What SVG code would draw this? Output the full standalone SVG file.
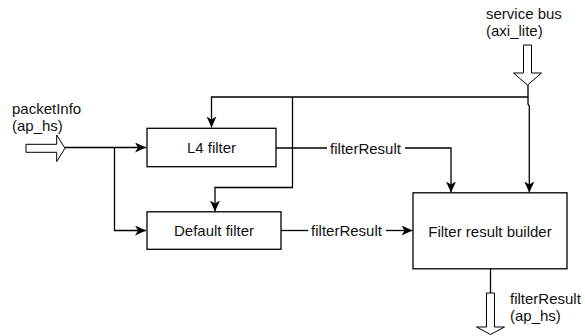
<svg xmlns="http://www.w3.org/2000/svg" width="585" height="336" viewBox="0 0 585 336">
  <style>
    .box { fill: #ffffff; stroke: #000000; stroke-width: 1.3; }
    .wire { fill: none; stroke: #000000; stroke-width: 1.3; }
    .bus { fill: #ffffff; stroke: #000000; stroke-width: 1; }
    text { font-family: "Liberation Sans", Arial, Helvetica, sans-serif; font-size: 15px; fill: #111111; }
    .mid { text-anchor: middle; }
  </style>
  <defs>
    <marker id="arrow" viewBox="0 0 11 10" refX="11" refY="5" markerWidth="11" markerHeight="10" markerUnits="userSpaceOnUse" orient="auto">
      <path d="M0,0 L11,5 L0,10 L3,5 Z" fill="#000000"/>
    </marker>
  </defs>

  <rect width="585" height="336" fill="#ffffff"/>

  <!-- connectors -->
  <g id="connectors">
    <!-- packetInfo fan-out -->
    <path class="wire" d="M65,147.5 H146" marker-end="url(#arrow)"/>
    <path class="wire" d="M114.5,147.5 V230.5 H146" marker-end="url(#arrow)"/>
    <!-- service bus distribution -->
    <path class="wire" d="M528,85 V97 H211.5 V127.5" marker-end="url(#arrow)"/>
    <path class="wire" d="M292.5,97 V187.5 H215 V211.5" marker-end="url(#arrow)"/>
    <path class="wire" d="M528,97 V104 L529.3,106 V192.5" marker-end="url(#arrow)"/>
    <!-- L4 filter result -->
    <path class="wire" d="M276,148 H327"/>
    <path class="wire" d="M405,148 H451 V192.5" marker-end="url(#arrow)"/>
    <text class="mid" x="365.5" y="153.5">filterResult</text>
    <!-- Default filter result -->
    <path class="wire" d="M281,230.5 H308"/>
    <path class="wire" d="M386,230.5 H412.5" marker-end="url(#arrow)"/>
    <text class="mid" x="346.5" y="236">filterResult</text>
    <!-- builder output -->
    <path class="wire" d="M490.5,268.5 V293"/>
  </g>

  <!-- input: packetInfo -->
  <g id="packet-info">
    <polygon class="bus" points="26,144.3 56.7,144.3 56.7,135 65,148.3 56.7,161.5 56.7,152.3 26,152.3"/>
    <text x="12" y="114">packetInfo</text>
    <text x="12" y="131">(ap_hs)</text>
  </g>

  <!-- input: service bus -->
  <g id="service-bus">
    <polygon class="bus" points="523.5,45 531.5,45 531.5,73 541.5,73 527.5,85 513.5,73 523.5,73"/>
    <text x="486" y="18.5">service bus</text>
    <text x="486" y="35.5">(axi_lite)</text>
  </g>

  <!-- output: filterResult -->
  <g id="filter-result-out">
    <polygon class="bus" points="486.5,293 494.5,293 494.5,327 504.5,327 490.5,334.5 476.5,327 486.5,327"/>
    <text x="510" y="303.5">filterResult</text>
    <text x="510" y="321">(ap_hs)</text>
  </g>

  <g id="l4-filter">
    <rect class="box" x="147" y="128.3" width="129" height="38.4"/>
    <text class="mid" x="211.5" y="153">L4 filter</text>
  </g>

  <g id="default-filter">
    <rect class="box" x="147" y="211.8" width="134" height="37.5"/>
    <text class="mid" x="214" y="236">Default filter</text>
  </g>

  <g id="filter-result-builder">
    <rect class="box" x="413" y="192.8" width="154" height="76"/>
    <text class="mid" x="490" y="236.5">Filter result builder</text>
  </g>
</svg>
